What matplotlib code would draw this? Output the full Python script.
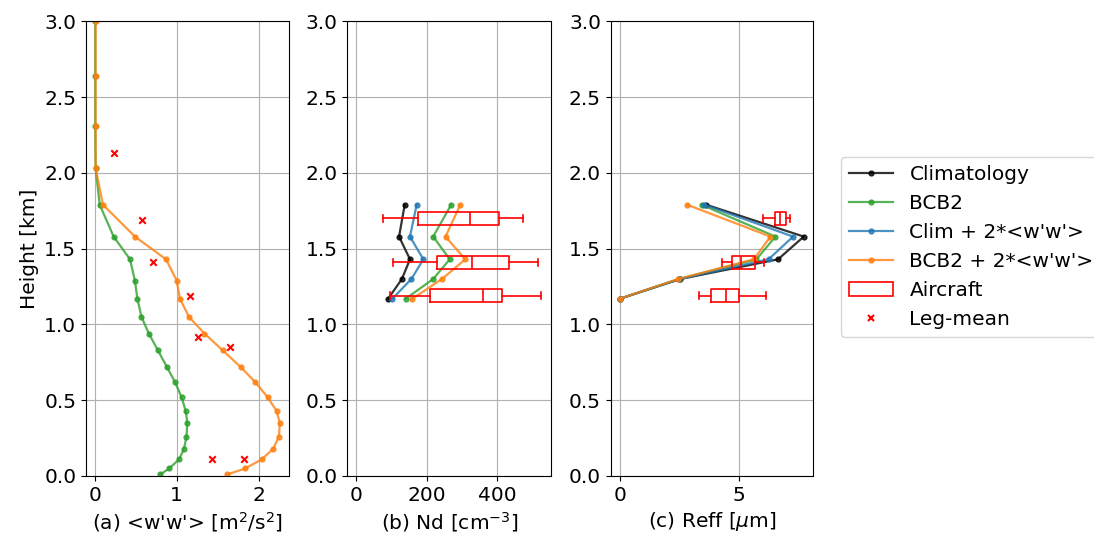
import numpy as np
import matplotlib.pyplot as plt
from matplotlib.patches import Patch

# heights of the <w'w'> profile [km]
z_ww = [0.01, 0.05, 0.11, 0.18, 0.26, 0.35, 0.43, 0.52, 0.62, 0.72, 0.83,
        0.94, 1.05, 1.17, 1.29, 1.43, 1.58, 1.79, 2.03, 2.31, 2.64, 3.0]
ww_base = [0.80, 0.91, 1.03, 1.09, 1.12, 1.13, 1.11, 1.06, 0.98, 0.88, 0.77,
           0.66, 0.57, 0.52, 0.49, 0.43, 0.23, 0.06, 0.01, 0.005, 0.005, 0.005]
ww_2x = [1.62, 1.84, 2.04, 2.18, 2.25, 2.26, 2.22, 2.11, 1.96, 1.78, 1.56,
         1.34, 1.15, 1.04, 1.00, 0.87, 0.49, 0.10, 0.01, 0.01, 0.01, 0.01]

# leg-mean aircraft <w'w'>
z_leg = [2.13, 1.69, 1.41, 1.19, 0.92, 0.85, 0.11, 0.11]
ww_leg = [0.24, 0.58, 0.71, 1.16, 1.26, 1.65, 1.43, 1.82]

# cloud levels [km]
z_cld = [1.17, 1.30, 1.43, 1.58, 1.79]
nd_clim = [91, 130, 153, 122, 138]
nd_bcb2 = [141, 219, 266, 219, 270]
nd_clim2 = [103, 157, 191, 153, 172]
nd_bcb22 = [160, 244, 310, 254, 296]

re_clim = [0.0, 2.54, 6.65, 7.73, 3.63]
re_bcb2 = [0.0, 2.50, 5.74, 6.54, 3.43]
re_clim2 = [0.0, 2.50, 6.25, 7.28, 3.55]
re_bcb22 = [0.0, 2.45, 5.63, 6.33, 2.83]

# aircraft box statistics: whislo, q1, med, q3, whishi
z_box = [1.70, 1.41, 1.19]
nd_box = [[75, 176, 324, 406, 474],
          [105, 230, 329, 435, 516],
          [97, 211, 362, 415, 525]]
re_box = [[6.00, 6.53, 6.74, 7.00, 7.16],
          [4.31, 4.73, 5.11, 5.67, 6.05],
          [3.32, 3.85, 4.45, 5.00, 6.13]]

labels = ["Climatology", "BCB2", "Clim + 2*<w'w'>", "BCB2 + 2*<w'w'>"]
colors = ["k", "tab:green", "tab:blue", "tab:orange"]

plt.rcParams['font.size'] = 14.5

fig = plt.figure(figsize=(10.94, 5.36), dpi=100)
ax1 = fig.add_axes([0.0786, 0.112, 0.1856, 0.848])
ax2 = fig.add_axes([0.3175, 0.112, 0.1862, 0.848])
ax3 = fig.add_axes([0.5582, 0.112, 0.1852, 0.848])


def box_stats(rows):
    out = []
    for r in rows:
        out.append(dict(whislo=r[0], q1=r[1], med=r[2], q3=r[3], whishi=r[4]))
    return out


boxprops = dict(color="red", linewidth=1.2)
lineprops = dict(color="red", linewidth=1.2)

# (a) w'w' -- Clim and BCB2 share the same profile, so the later curves cover them
ww_sets = [ww_base, ww_base, ww_2x, ww_2x]
for ww, c, lab in zip(ww_sets, colors, labels):
    if c in ("k", "tab:blue"):
        # hidden underneath; only kept for the legend
        ax1.plot([], [], '.-', color=c, alpha=0.8, markersize=7, lw=1.6, label=lab)
    else:
        ax1.plot(ww, z_ww, '.-', color=c, alpha=0.8, markersize=7, lw=1.6, label=lab)
ax1.scatter(ww_leg, z_leg, marker='x', color='red', s=22, lw=1.5, zorder=5)
ax1.set_xlabel("(a) <w'w'> [m$^2$/s$^2$]")
ax1.set_ylabel("Height [km]")

# (b) Nd
for nd, c, lab in zip([nd_clim, nd_bcb2, nd_clim2, nd_bcb22], colors, labels):
    ax2.plot(nd, z_cld, '.-', color=c, alpha=0.8, markersize=7, lw=1.6)
ax2.bxp(box_stats(nd_box), positions=z_box, widths=0.09, orientation='horizontal',
        showfliers=False, manage_ticks=False, boxprops=boxprops,
        whiskerprops=lineprops, capprops=lineprops, medianprops=lineprops)
ax2.set_xlim(-25, 554)
ax2.set_xlabel("(b) Nd [cm$^{-3}$]")

# (c) Reff
for re, c, lab in zip([re_clim, re_bcb2, re_clim2, re_bcb22], colors, labels):
    ax3.plot(re, z_cld, '.-', color=c, alpha=0.8, markersize=7, lw=1.6)
ax3.bxp(box_stats(re_box), positions=z_box, widths=0.09, orientation='horizontal',
        showfliers=False, manage_ticks=False, boxprops=boxprops,
        whiskerprops=lineprops, capprops=lineprops, medianprops=lineprops)
ax3.set_xlim(-0.39, 8.13)
ax3.set_xticks([0, 5])
ax3.set_xlabel("(c) Reff [$\\mu$m]")

for ax in [ax1, ax2, ax3]:
    ax.set_ylim(0, 3)
    ax.set_yticks(np.arange(0, 3.01, 0.5))
    ax.grid(True)
    ax.set_axisbelow(True)

handles, labs = ax1.get_legend_handles_labels()
handles.append(Patch(facecolor='white', edgecolor='red', lw=1.2))
labs.append("Aircraft")
handles.append(plt.Line2D([], [], marker='x', color='red', ls='none', markersize=5, mew=1.5))
labs.append("Leg-mean")
fig.legend(handles, labs, loc='center left', bbox_to_anchor=(0.7687, 0.539),
           borderaxespad=0, handlelength=2.2)

fig.savefig("out.png", dpi=100)
